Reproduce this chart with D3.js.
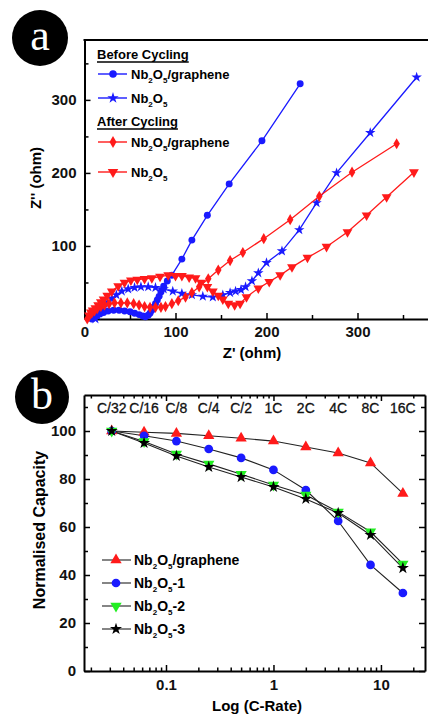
<!DOCTYPE html>
<html>
<head>
<meta charset="utf-8">
<script src="https://cdn.jsdelivr.net/npm/d3@7"></script>
<style>
  body { margin: 0; background: #fff; }
  svg { display: block; }
  text { font-family: "Liberation Sans", Arial, sans-serif; font-weight: bold; }
</style>
</head>
<body>
<div id="chart"></div>
<script>
// ---- panel a : Nyquist data [Z', Z''] (ohm)
var grapheneBefore = [[8,0],[10,2],[13,5],[17,7],[21,9],[26,11],[32,12],[38,12],[44,11],[50,10],[55,8],[60,6],[64,4],[67,3],[70,5],[72,8],[74,12],[76,16],[78,21],[80,26],[82,31],[84,37],[87,45],[91,52],[96,60],[107,82],[118,108],[135,142],[159,185],[195,244],[237,322]];
var nbBefore = [[12,0],[14,5],[17,10],[21,16],[25,22],[30,28],[35,33],[41,38],[48,41],[55,43],[62,44],[70,44],[78,43],[87,41],[97,38],[107,35],[118,33],[130,31],[141,30],[152,33],[160,36],[166,38],[172,40],[177,44],[184,52],[191,63],[200,77],[217,93],[236,122],[255,159],[277,200],[314,255],[365,331]];
var grapheneAfter = [[3,0],[5,4],[8,8],[11,11],[14,14],[18,17],[22,19],[27,21],[33,22],[40,22],[47,22],[54,21],[60,19],[66,17],[72,16],[78,16],[84,16],[89,17],[96,21],[103,25],[111,30],[118,36],[126,44],[136,55],[147,67],[160,80],[174,91],[197,110],[226,136],[258,168],[294,201],[343,240]];
var nbAfter = [[5,5],[7,9],[9,12],[12,15],[15,19],[18,23],[21,27],[25,32],[30,38],[37,45],[44,50],[51,53],[58,54],[66,55],[74,56],[83,58],[92,60],[100,59],[107,59],[115,57],[122,56],[128,50],[135,44],[141,38],[147,32],[152,27],[158,21],[165,19],[171,21],[178,30],[191,42],[203,51],[215,60],[228,71],[245,84],[266,99],[289,119],[310,142],[332,167],[362,201]];
var zTicks = [0, 100, 200, 300];
var zMinor = [50, 150, 250, 350];

// ---- panel b : rate capability
var rates = [1/32, 1/16, 1/8, 1/4, 1/2, 1, 2, 4, 8, 16];
var rateLabels = ["C/32", "C/16", "C/8", "C/4", "C/2", "1C", "2C", "4C", "8C", "16C"];
var capGraphene = [100, 99.5, 99, 98, 97, 95.8, 93.3, 90.8, 86.7, 74];
var capNb1 = [100, 98, 95.8, 92.5, 88.8, 83.8, 75.4, 62.5, 44.2, 32.5];
var capNb2 = [100, 95.6, 90.4, 86.3, 82, 77.5, 73.3, 66.3, 58, 44.6];
var capNb3 = [100, 95, 89.6, 85, 80.8, 76.7, 71.7, 65.8, 56.7, 42.9];
var capTicks = [0, 20, 40, 60, 80, 100];
var capMinor = [10, 30, 50, 70, 90, 110];
var logTicks = [0.1, 1, 10];

var W = 428, H = 715;
var svg = d3.select("#chart").append("svg").attr("width", W).attr("height", H);

function nbText(sel, suffix) {
  sel.append("tspan").text("Nb");
  sel.append("tspan").attr("font-size", "8px").attr("dy", 4).text("2");
  sel.append("tspan").attr("dy", -4).text("O");
  sel.append("tspan").attr("font-size", "8px").attr("dy", 4).text("5");
  if (suffix) sel.append("tspan").attr("dy", -4).text(suffix);
}

function badge(cx, cy, r, letter) {
  svg.append("circle").attr("cx", cx).attr("cy", cy).attr("r", r).attr("fill", "#000");
  svg.append("text").attr("x", cx).attr("y", cy + 12)
    .attr("text-anchor", "middle")
    .style("font-family", "'Liberation Serif', 'DejaVu Serif', serif")
    .style("font-weight", "normal")
    .attr("font-size", "44px").attr("fill", "#fff").text(letter);
}

// ================= panel a =================
var xA = d3.scaleLinear().domain([0, 400]).range([84.5, 448.5]);
var yA = d3.scaleLinear().domain([0, 382]).range([319, 40]);

var gA = svg.append("g");

function styleAxis(g) {
  g.select(".domain").attr("stroke-width", 2);
  g.selectAll(".tick line").attr("stroke-width", 1.5);
  g.selectAll(".tick text").attr("font-size", "15px").attr("fill", "#111");
}

gA.append("g").attr("transform", "translate(0,319)")
  .call(d3.axisBottom(xA).tickValues(zTicks).tickSize(-6).tickPadding(7).tickSizeOuter(0))
  .call(styleAxis);
gA.append("g").attr("transform", "translate(0,319)")
  .call(d3.axisBottom(xA).tickValues(zMinor).tickSize(-4).tickFormat("").tickSizeOuter(0))
  .call(function (g) { g.select(".domain").remove(); g.selectAll(".tick line").attr("stroke-width", 1.5); });

gA.append("g").attr("transform", "translate(84.5,0)")
  .call(d3.axisLeft(yA).tickValues([100, 200, 300]).tickSize(-6).tickPadding(8).tickSizeOuter(0))
  .call(styleAxis);
gA.append("g").attr("transform", "translate(84.5,0)")
  .call(d3.axisLeft(yA).tickValues(zMinor).tickSize(-4).tickFormat("").tickSizeOuter(0))
  .call(function (g) { g.select(".domain").remove(); g.selectAll(".tick line").attr("stroke-width", 1.5); });

gA.append("line").attr("x1", 83.5).attr("x2", W).attr("y1", 40).attr("y2", 40)
  .attr("stroke", "#000").attr("stroke-width", 2);

gA.append("text").attr("x", 252).attr("y", 358).attr("text-anchor", "middle")
  .attr("font-size", "15px").text("Z' (ohm)");
gA.append("text").attr("transform", "translate(41,178) rotate(-90)").attr("text-anchor", "middle")
  .attr("font-size", "15px").text("Z'' (ohm)");

var seriesA = [
  { data: grapheneBefore, color: "#1a1aff", sym: d3.symbolCircle, size: 38, rot: 0 },
  { data: nbBefore, color: "#1a1aff", sym: d3.symbolStar, size: 34, rot: 0 },
  { data: grapheneAfter, color: "#ff1a1a", sym: d3.symbolDiamond, size: 36, rot: 0 },
  { data: nbAfter, color: "#ff1a1a", sym: d3.symbolTriangle, size: 42, rot: 180 }
];

var lineA = d3.line().x(function (d) { return xA(d[0]); }).y(function (d) { return yA(d[1]); });

seriesA.forEach(function (s) {
  gA.append("path").datum(s.data).attr("d", lineA)
    .attr("fill", "none").attr("stroke", s.color).attr("stroke-width", 1.3);
  gA.selectAll(null).data(s.data).enter().append("path")
    .attr("d", d3.symbol().type(s.sym).size(s.size))
    .attr("transform", function (d) {
      return "translate(" + xA(d[0]) + "," + yA(d[1]) + ") rotate(" + s.rot + ")";
    })
    .attr("fill", s.color);
});

// legend a
var legA = gA.append("g");
[["Before Cycling", 59], ["After Cycling", 126]].forEach(function (h) {
  var t = legA.append("text").attr("x", 97).attr("y", h[1]).attr("font-size", "13px").text(h[0]);
  var w = t.node().getComputedTextLength();
  legA.append("line").attr("x1", 97).attr("x2", 97 + w).attr("y1", h[1] + 3).attr("y2", h[1] + 3)
    .attr("stroke", "#000").attr("stroke-width", 1.3);
});
var legRowsA = [
  { y: 74, s: seriesA[0], label: "/graphene" },
  { y: 98, s: seriesA[1], label: "" },
  { y: 142, s: seriesA[2], label: "/graphene" },
  { y: 172, s: seriesA[3], label: "" }
];
legRowsA.forEach(function (r) {
  legA.append("line").attr("x1", 98).attr("x2", 127).attr("y1", r.y).attr("y2", r.y)
    .attr("stroke", r.s.color).attr("stroke-width", 1.4);
  legA.append("path").attr("d", d3.symbol().type(r.s.sym).size(r.s.size + 6))
    .attr("transform", "translate(113," + r.y + ") rotate(" + r.s.rot + ")")
    .attr("fill", r.s.color);
  var t = legA.append("text").attr("x", 131).attr("y", r.y + 5).attr("font-size", "13px");
  nbText(t, r.label);
});

badge(40, 38, 28, "a");

// ================= panel b =================
var xB = d3.scaleLog().domain([0.01726, 25.7]).range([84, 425]);
var yB = d3.scaleLinear().domain([0, 115]).range([671, 395]);

var gB = svg.append("g");

var logMinor = [];
[0.01, 0.1, 1, 10].forEach(function (dec) {
  for (var k = 2; k <= 9; k++) {
    var v = dec * k;
    if (v > 0.0173 && v < 25.7 && logTicks.indexOf(v) < 0) logMinor.push(v);
  }
});

function minorOnly(g) {
  g.select(".domain").remove();
  g.selectAll(".tick line").attr("stroke-width", 1.5);
}

// bottom
gB.append("g").attr("transform", "translate(0,671)")
  .call(d3.axisBottom(xB).tickValues(logTicks).tickSize(-6).tickPadding(8).tickSizeOuter(0)
    .tickFormat(function (d) { return d < 1 ? "0.1" : d3.format("d")(d); }))
  .call(styleAxis);
gB.append("g").attr("transform", "translate(0,671)")
  .call(d3.axisBottom(xB).tickValues(logMinor).tickSize(-3.5).tickFormat("").tickSizeOuter(0))
  .call(minorOnly);
// top
gB.append("g").attr("transform", "translate(0,395)")
  .call(d3.axisTop(xB).tickValues(logTicks).tickSize(-6).tickFormat("").tickSizeOuter(0))
  .call(styleAxis);
gB.append("g").attr("transform", "translate(0,395)")
  .call(d3.axisTop(xB).tickValues(logMinor).tickSize(-3.5).tickFormat("").tickSizeOuter(0))
  .call(minorOnly);
// left
gB.append("g").attr("transform", "translate(84,0)")
  .call(d3.axisLeft(yB).tickValues(capTicks).tickSize(-6).tickPadding(8).tickSizeOuter(0))
  .call(styleAxis);
gB.append("g").attr("transform", "translate(84,0)")
  .call(d3.axisLeft(yB).tickValues(capMinor).tickSize(-4).tickFormat("").tickSizeOuter(0))
  .call(minorOnly);
// right
gB.append("g").attr("transform", "translate(425,0)")
  .call(d3.axisRight(yB).tickValues(capTicks).tickSize(-6).tickFormat("").tickSizeOuter(0))
  .call(styleAxis);
gB.append("g").attr("transform", "translate(425,0)")
  .call(d3.axisRight(yB).tickValues(capMinor).tickSize(-4).tickFormat("").tickSizeOuter(0))
  .call(minorOnly);

// rate labels along the top
gB.selectAll(null).data(rates).enter().append("text")
  .attr("x", function (d) { return xB(d); }).attr("y", 413)
  .attr("text-anchor", "middle").attr("font-size", "14px").attr("fill", "#111")
  .style("font-weight", "normal").style("font-family", "'Liberation Sans', Arial, sans-serif")
  .attr("stroke", "#111").attr("stroke-width", 0.3)
  .text(function (d, i) { return rateLabels[i]; });

gB.append("text").attr("x", 257).attr("y", 711).attr("text-anchor", "middle")
  .attr("font-size", "15px").text("Log (C-Rate)");
gB.append("text").attr("transform", "translate(45,530) rotate(-90)").attr("text-anchor", "middle")
  .attr("font-size", "16px").text("Normalised Capacity");

var seriesB = [
  { data: capGraphene, color: "#ff1a1a", sym: d3.symbolTriangle, size: 55, rot: 0, label: "/graphene" },
  { data: capNb1, color: "#1a1aff", sym: d3.symbolCircle, size: 60, rot: 0, label: "-1" },
  { data: capNb2, color: "#22ee22", sym: d3.symbolTriangle, size: 55, rot: 180, label: "-2" },
  { data: capNb3, color: "#000", sym: d3.symbolStar, size: 45, rot: 0, label: "-3" }
];

var lineB = d3.line().x(function (d, i) { return xB(rates[i]); }).y(function (d) { return yB(d); });

seriesB.forEach(function (s) {
  gB.append("path").datum(s.data).attr("d", lineB)
    .attr("fill", "none").attr("stroke", "#222").attr("stroke-width", 1.1);
});
seriesB.forEach(function (s) {
  gB.selectAll(null).data(s.data).enter().append("path")
    .attr("d", d3.symbol().type(s.sym).size(s.size))
    .attr("transform", function (d, i) {
      return "translate(" + xB(rates[i]) + "," + yB(d) + ") rotate(" + s.rot + ")";
    })
    .attr("fill", s.color);
});

// legend b
var legB = gB.append("g");
[560, 583, 606, 629].forEach(function (y, i) {
  var s = seriesB[i];
  legB.append("line").attr("x1", 102).attr("x2", 131).attr("y1", y).attr("y2", y)
    .attr("stroke", "#222").attr("stroke-width", 1.1);
  legB.append("path").attr("d", d3.symbol().type(s.sym).size(s.size))
    .attr("transform", "translate(116," + y + ") rotate(" + s.rot + ")")
    .attr("fill", s.color);
  var t = legB.append("text").attr("x", 134).attr("y", y + 5).attr("font-size", "14px");
  nbText(t, s.label);
});

badge(42, 397, 27, "b");
</script>
</body>
</html>
